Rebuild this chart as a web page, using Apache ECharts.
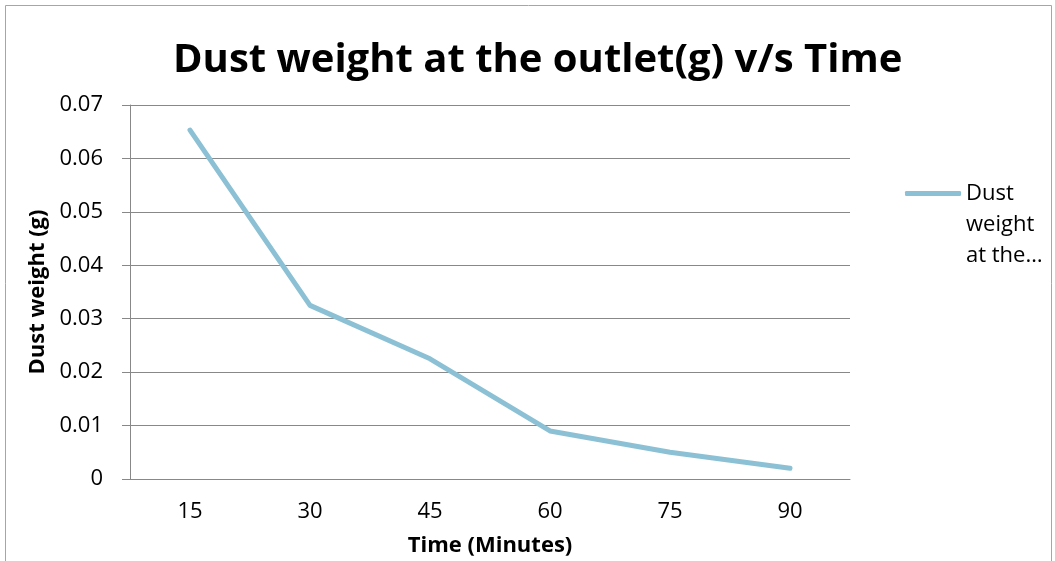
<!DOCTYPE html>
<html>
<head>
<meta charset="utf-8" />
<title>Dust weight at the outlet</title>
<style type="text/css">
body{ margin: 0; background: #fff; }
#chart{ width: 1055px; height: 561px; }
</style>
<script src="https://cdn.jsdelivr.net/npm/echarts@6/dist/echarts.min.js"></script>
</head>
<body>
<div id="chart"></div>
<script type="text/javascript">
// data
var times = ['15', '30', '45', '60', '75', '90'];
var dustWeight = [0.0653, 0.0325, 0.0225, 0.009, 0.005, 0.002];
var seriesName = 'Dust weight at the outlet(g)';

var font = '"Open Sans", "Liberation Sans", sans-serif';
var myChart = echarts.init(document.getElementById('chart'));

var option = {
    animation: false,
    backgroundColor: '#fff',
    title: {
        text: 'Dust weight at the outlet(g) v/s Time',
        left: 168,
        top: 36,
        textStyle: { fontFamily: font, fontSize: 40, fontWeight: 'bold', color: '#000' }
    },
    // chart frame
    graphic: [{
        type: 'rect',
        shape: { x: 5.5, y: 5.5, width: 1046, height: 600 },
        style: { fill: 'none', stroke: '#a6a6a6', lineWidth: 1 },
        silent: true
    }],
    legend: {
        left: 900,
        top: 111,
        orient: 'vertical',
        itemWidth: 56,
        itemHeight: 5,
        itemGap: 4,
        icon: 'roundRect',
        data: [seriesName],
        // two blank lines keep the marker level with the first line of text
        formatter: function () { return '\n\nDust\nweight\nat the…'; },
        textStyle: { fontFamily: font, fontSize: 22, color: '#000', lineHeight: 31 }
    },
    grid: { left: 130, right: 205, top: 105, bottom: 82, outerBoundsMode: 'none', containLabel: false },
    xAxis: {
        type: 'category',
        data: times,
        boundaryGap: true,
        name: 'Time (Minutes)',
        nameLocation: 'middle',
        nameGap: 56,
        nameTextStyle: { fontFamily: font, fontSize: 22, fontWeight: 'bold', color: '#000' },
        axisLine: { lineStyle: { color: '#888', width: 1 } },
        axisTick: { show: false },
        axisLabel: { fontFamily: font, fontSize: 22, color: '#000', margin: 22 }
    },
    yAxis: {
        type: 'value',
        min: 0,
        max: 0.07,
        interval: 0.01,
        name: 'Dust weight (g)',
        nameLocation: 'middle',
        nameGap: 81,
        nameTextStyle: { fontFamily: font, fontSize: 22, fontWeight: 'bold', color: '#000' },
        axisLine: { show: true, lineStyle: { color: '#888', width: 1 } },
        axisTick: { show: true, length: 8, lineStyle: { color: '#888' } },
        axisLabel: {
            fontFamily: font, fontSize: 22, color: '#000', margin: 27,
            formatter: function (v) { return v === 0 ? '0' : v.toFixed(2); }
        },
        splitLine: { lineStyle: { color: '#888', width: 1 } }
    },
    series: [{
        name: seriesName,
        type: 'line',
        data: dustWeight,
        symbol: 'none',
        itemStyle: { color: '#8cc1d5' },
        lineStyle: { color: '#8cc1d5', width: 5, cap: 'round', join: 'round' }
    }]
};

myChart.setOption(option, true);
</script>
</body>
</html>
